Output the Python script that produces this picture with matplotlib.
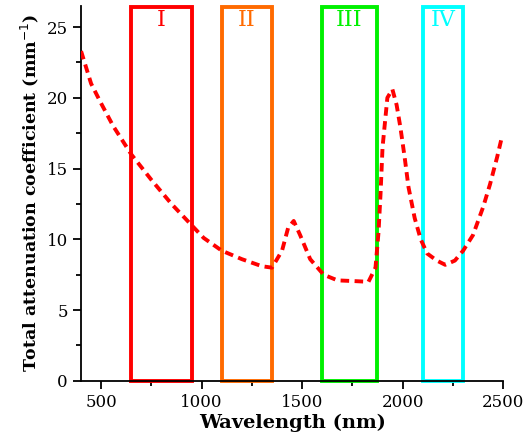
import numpy as np
import matplotlib
matplotlib.use("Agg")
import matplotlib.pyplot as plt
from matplotlib.patches import Rectangle
from matplotlib.ticker import MultipleLocator

plt.rcParams['font.family'] = ['DejaVu Serif']

# attenuation curve
wavelength = [400, 450, 500, 560, 650, 750, 850, 950, 1010, 1100, 1200, 1300, 1350,
              1400, 1430, 1458, 1490, 1540, 1607, 1676, 1760, 1830, 1865, 1880, 1890,
              1900, 1924, 1949, 1970, 1989, 2010, 2029, 2060, 2090, 2122, 2170, 2212,
              2260, 2301, 2350, 2401, 2435, 2470, 2495]
attenuation = [23.3, 21.0, 19.6, 18.0, 16.0, 14.2, 12.5, 11.0, 10.1, 9.2, 8.6, 8.1, 8.0,
               9.2, 10.8, 11.3, 10.3, 8.6, 7.5, 7.1, 7.05, 7.0, 8.0, 10.5, 13.2,
               16.5, 20.0, 20.6, 19.5, 17.9, 15.8, 13.7, 11.5, 10.0, 9.0, 8.5, 8.2,
               8.5, 9.2, 10.3, 12.3, 13.9, 15.8, 17.3]

# spectral windows
win_names = ["I", "II", "III", "IV"]
win_start = [650, 1100, 1600, 2100]
win_end = [950, 1350, 1870, 2300]
win_colors = ["#ff0000", "#ff6a00", "#00f000", "#00ffff"]

fig = plt.figure(figsize=(5.23, 4.46), dpi=100)
ax = fig.add_axes([0.155, 0.146, 0.807, 0.841])

for name, x0, x1, c in zip(win_names, win_start, win_end, win_colors):
    ax.add_patch(Rectangle((x0, 0), x1 - x0, 26.4, fill=False, edgecolor=c,
                           linewidth=2.8, clip_on=False, zorder=2))
    ax.text((x0 + x1) / 2, 25.5, name, color=c, ha="center", va="center",
            fontsize=16)

ax.plot(wavelength, attenuation, color="#ff0000", linestyle=(0, (2.2, 1.4)),
        linewidth=2.8, zorder=3)

ax.set_xlim(400, 2500)
ax.set_ylim(0, 26.5)
ax.set_xticks([500, 1000, 1500, 2000, 2500])
ax.set_yticks([0, 5, 10, 15, 20, 25])
ax.xaxis.set_minor_locator(MultipleLocator(250))
ax.yaxis.set_minor_locator(MultipleLocator(2.5))
ax.spines["top"].set_visible(False)
ax.spines["right"].set_visible(False)
ax.spines["left"].set_linewidth(1.3)
ax.spines["bottom"].set_linewidth(1.3)
ax.tick_params(which="major", length=6, width=1.3, labelsize=12)
ax.tick_params(which="minor", length=3.5, width=1.3)

ax.set_xlabel("Wavelength (nm)", fontsize=14, fontweight="bold", labelpad=2)
ax.set_ylabel("Total attenuation coefficient (mm$^{-1}$)", fontsize=12.5,
              fontweight="bold", labelpad=4)

fig.savefig("out.png", dpi=100)
